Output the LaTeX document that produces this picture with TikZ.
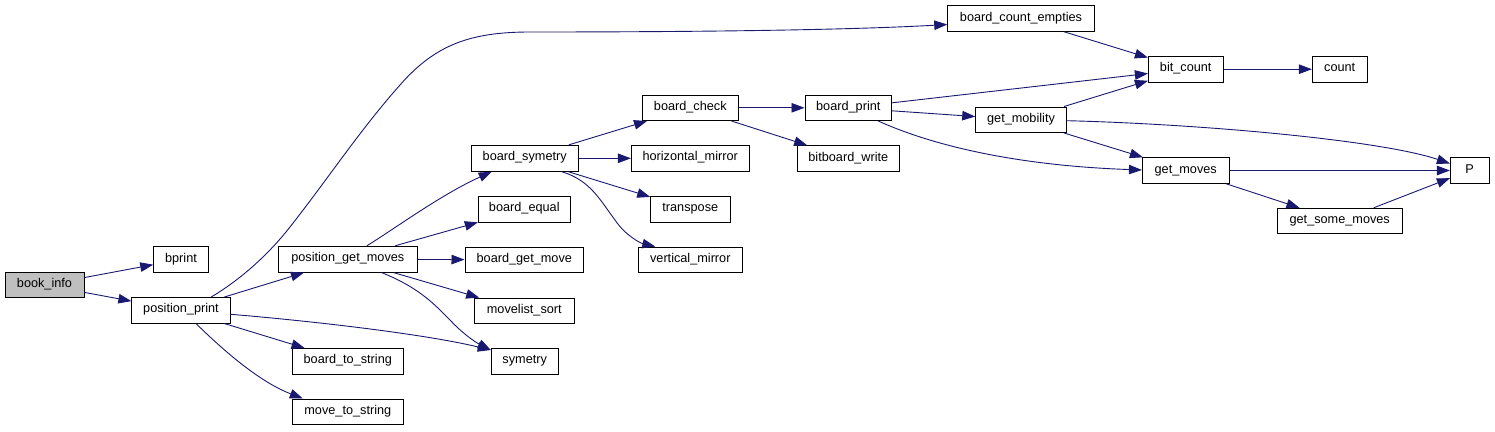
\documentclass[tikz,border=0pt]{standalone}
\usepackage{fontspec}
\setmainfont{Liberation Sans}
\usetikzlibrary{arrows.meta}
\definecolor{edgeblue}{HTML}{191970}
\definecolor{nodegray}{HTML}{BFBFBF}
\begin{document}
\begin{tikzpicture}[x=1pt,y=-1pt,
  fn/.style={draw=black, line width=0.9pt, fill=white, inner sep=0pt,
    minimum height=25.5pt, text height=8pt, text depth=3pt,
    font=\fontsize{12.7pt}{14pt}\selectfont},
  cur/.style={fn, fill=nodegray},
  call/.style={draw=edgeblue, line width=0.9pt, -{Triangle[length=13pt,width=9.5pt]}}
]
\useasboundingbox (0,0) rectangle (1495,431);

\node[cur, minimum width=79pt] (bookinfo) at (44.5,285) {book\_info};
\node[fn, minimum width=54.6pt] (bprint) at (181,259.5) {bprint};
\node[fn, minimum width=98.3pt] (pp) at (181,310.3) {position\_print};
\node[fn, minimum width=139pt, minimum height=26pt] (pgm) at (347.8,259.2) {position\_get\_moves};
\node[fn, minimum width=111pt] (bts) at (347.8,361.2) {board\_to\_string};
\node[fn, minimum width=111pt] (mts) at (347.8,411.7) {move\_to\_string};
\node[fn, minimum width=107.3pt, minimum height=26pt] (bs) at (524.7,158.3) {board\_symetry};
\node[fn, minimum width=92pt] (be) at (524.3,209.2) {board\_equal};
\node[fn, minimum width=118.7pt] (bgm) at (524.3,259.8) {board\_get\_move};
\node[fn, minimum width=100pt] (mls) at (524.3,310.8) {movelist\_sort};
\node[fn, minimum width=67pt] (sym) at (524.7,361.2) {symetry};
\node[fn, minimum width=117.7pt, minimum height=26pt] (hm) at (690.2,158.3) {horizontal\_mirror};
\node[fn, minimum width=79.3pt] (tr) at (690.3,209.2) {transpose};
\node[fn, minimum width=104pt] (vm) at (690.3,259.8) {vertical\_mirror};
\node[fn, minimum width=96pt] (bc) at (690.3,107.8) {board\_check};
\node[fn, minimum width=86.7pt] (bp) at (848.3,107.8) {board\_print};
\node[fn, minimum width=102.7pt] (bw) at (848.3,158.5) {bitboard\_write};
\node[fn, minimum width=146.6pt] (bce) at (1021,18.5) {board\_count\_empties};
\node[fn, minimum width=90.6pt] (gmob) at (1021,119.7) {get\_mobility};
\node[fn, minimum width=74.7pt] (bitc) at (1185.7,69.2) {bit\_count};
\node[fn, minimum width=54.7pt] (cnt) at (1339.7,69.2) {count};
\node[fn, minimum width=86.7pt] (gm) at (1185.7,170.5) {get\_moves};
\node[fn, minimum width=38.7pt] (P) at (1469.7,170.5) {P};
\node[fn, minimum width=125.3pt] (gsm) at (1339.7,221) {get\_some\_moves};

% straight calls
\draw[call] (bookinfo) -- (bprint);
\draw[call] (bookinfo) -- (pp);
\draw[call] (pp) -- (pgm);
\draw[call] (pp) -- (bts);
\draw[call] (pgm) -- (be);
\draw[call] (pgm) -- (bgm);
\draw[call] (pgm) -- (mls);
\draw[call] (bs) -- (bc);
\draw[call] (bs) -- (hm);
\draw[call] (bs) -- (tr);
\draw[call] (bc) -- (bp);
\draw[call] (bc) -- (bw);
\draw[call] (bp) -- (bitc);
\draw[call] (bp) -- (gmob);
\draw[call] (bce) -- (bitc);
\draw[call] (gmob) -- (bitc);
\draw[call] (gmob) -- (gm);
\draw[call] (bitc) -- (cnt);
\draw[call] (gm) -- (P);
\draw[call] (gm) -- (gsm);
\draw[call] (gsm) -- (P);

% curved calls
\draw[call] ([xshift=30pt]pp.north) .. controls (240,280) and (268,255) .. (290,227)
  .. controls (330,176) and (360,130) .. (400,85)
  .. controls (435,45) and (470,32) .. (530,32)
  .. controls (700,32) and (850,30) .. ([yshift=-6pt]bce.west);
\draw[call] ([yshift=-4pt]pp.east) .. controls (300,320) and (420,333) .. ([yshift=-2pt]sym.north west);
\draw[call] ([xshift=15pt]pp.south) .. controls (225,352) and (260,382) .. ([xshift=-45pt]mts.north);
\draw[call] ([xshift=19pt]pgm.north) .. controls (390,232) and (440,195) .. ([xshift=-33pt]bs.south);
\draw[call] ([xshift=34pt]pgm.south) .. controls (420,288) and (435,305) .. (450,320)
  .. controls (462,333) and (475,342) .. ([yshift=-2pt]sym.north west);
\draw[call] ([xshift=37pt]bs.south) .. controls (590,180) and (600,200) .. (615,220)
  .. controls (625,235) and (640,243) .. ([xshift=-35pt]vm.north);
\draw[call] ([xshift=30pt]bp.south) .. controls (920,140) and (1000,165) .. ([yshift=0.5pt]gm.west);
\draw[call] ([yshift=-1pt]gmob.east) .. controls (1200,124) and (1380,140) .. ([yshift=7pt]P.west);
\end{tikzpicture}
\end{document}
